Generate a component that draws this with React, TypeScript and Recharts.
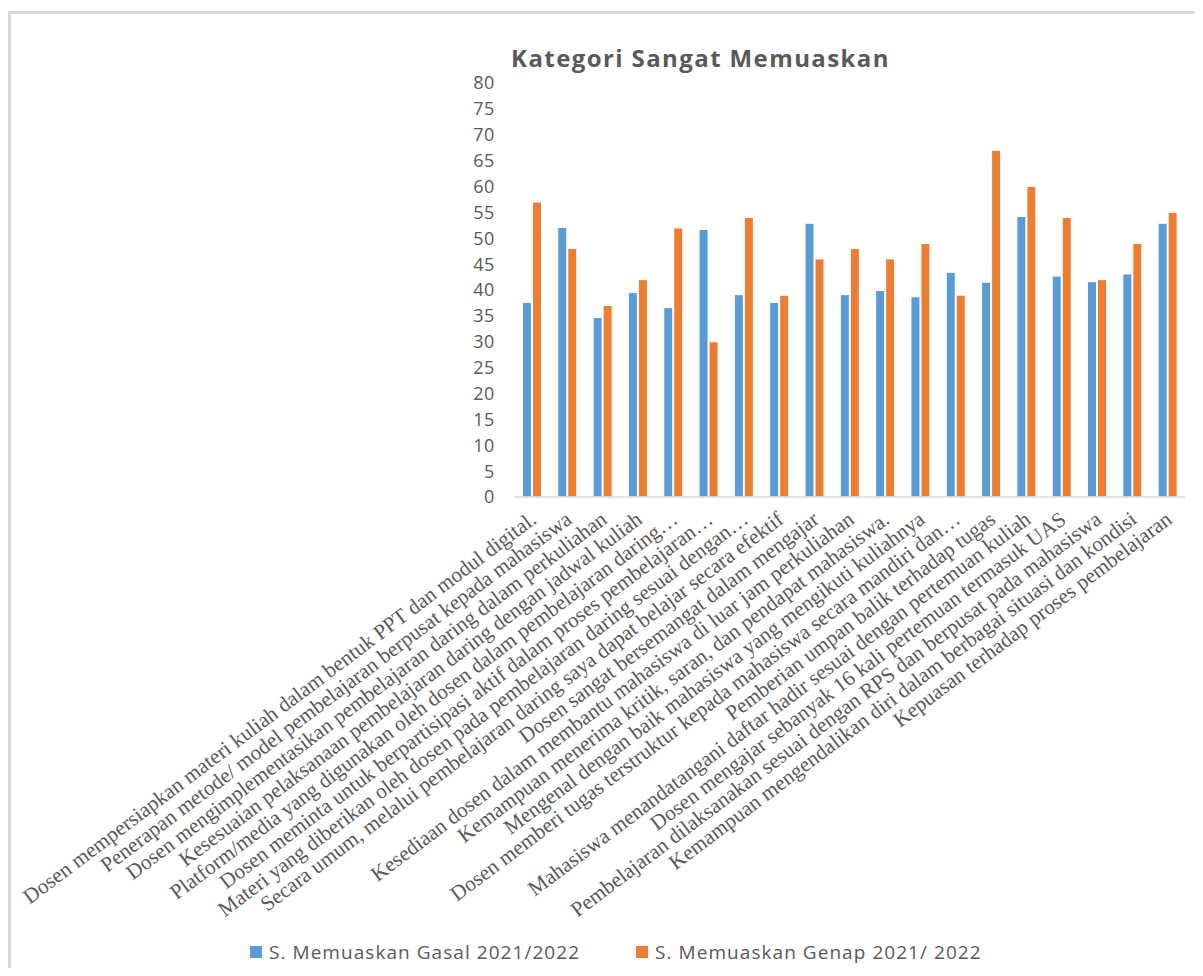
import React from 'react';
import { BarChart, Bar, XAxis, YAxis } from 'recharts';

const categories = [
  'Dosen mempersiapkan materi kuliah dalam bentuk PPT dan modul digital.',
  'Penerapan metode/ model pembelajaran berpusat kepada mahasiswa',
  'Dosen mengimplementasikan pembelajaran daring dalam perkuliahan',
  'Kesesuaian pelaksanaan pembelajaran daring dengan jadwal kuliah',
  'Platform/media yang digunakan oleh dosen dalam pembelajaran daring…',
  'Dosen meminta untuk berpartisipasi aktif dalam proses pembelajaran…',
  'Materi yang diberikan oleh dosen pada pembelajaran daring sesuai dengan…',
  'Secara umum, melalui pembelajaran daring saya dapat belajar secara efektif',
  'Dosen sangat bersemangat dalam mengajar',
  'Kesediaan dosen dalam membantu mahasiswa di luar jam perkuliahan',
  'Kemampuan menerima kritik, saran, dan pendapat mahasiswa.',
  'Mengenal dengan baik mahasiswa yang mengikuti kuliahnya',
  'Dosen memberi tugas terstruktur kepada mahasiswa secara mandiri dan…',
  'Pemberian umpan balik terhadap tugas',
  'Mahasiswa menandatangani daftar hadir sesuai dengan pertemuan kuliah',
  'Dosen mengajar sebanyak 16 kali pertemuan termasuk UAS',
  'Pembelajaran dilaksanakan sesuai dengan RPS dan berpusat pada mahasiswa',
  'Kemampuan mengendalikan diri dalam berbagai situasi dan kondisi',
  'Kepuasan terhadap proses pembelajaran',
];

const gasal = [37.6, 52.1, 34.7, 39.5, 36.6, 51.7, 39.1, 37.6, 52.9, 39.1, 39.9, 38.7, 43.4, 41.5, 54.2, 42.7, 41.6, 43.1, 52.9];
const genap = [57, 48, 37, 42, 52, 30, 54, 39, 46, 48, 46, 49, 39, 67, 60, 54, 42, 49, 55];

const yTicks = [0, 5, 10, 15, 20, 25, 30, 35, 40, 45, 50, 55, 60, 65, 70, 75, 80];

const seriesNames = ['S. Memuaskan Gasal 2021/2022', 'S. Memuaskan Genap 2021/ 2022'];
const colors = ['#5B9BD5', '#ED7D31'];

const data = categories.map((name, i) => ({ name, gasal: gasal[i], genap: genap[i] }));

const sans = "'Open Sans', 'Noto Sans', sans-serif";
const serif = "'Liberation Serif', 'Times New Roman', serif";

const AngledTick = (props: any) => {
  const { x, y, payload } = props;
  return (
    <g transform={`translate(${x + 6},${y + 25}) rotate(-37)`}>
      <text x={0} y={0} textAnchor="end" fill="#595959" fontSize={21.3} fontFamily={serif}>
        {payload.value}
      </text>
    </g>
  );
};

export default function App() {
  return (
    <div style={{ position: 'relative', width: 1195, height: 960 }}>
      <div
        style={{
          position: 'absolute',
          left: 0,
          top: 3,
          right: 0,
          bottom: -20,
          borderTop: '3px solid #d9d9d9',
          borderLeft: '3px solid #d9d9d9',
        }}
      />
      <div
        style={{
          position: 'absolute',
          left: 0,
          width: 1195,
          top: 33,
          textAlign: 'center',
          paddingLeft: 190,
          boxSizing: 'border-box',
          fontFamily: sans,
          fontWeight: 700,
          fontSize: 24,
          letterSpacing: 1.4,
          color: '#595959',
        }}
      >
        Kategori Sangat Memuaskan
      </div>
      <div style={{ position: 'absolute', left: 0, top: 0 }}>
        <BarChart
          width={1195}
          height={960}
          data={data}
          margin={{ top: 75, right: 18, left: 446, bottom: 41 }}
          barCategoryGap="24%"
          barGap={1}
        >
          <XAxis
            dataKey="name"
            interval={0}
            tickLine={false}
            tickSize={0}
            tickMargin={0}
            height={430}
            axisLine={{ stroke: '#d9d9d9', strokeWidth: 1.5 }}
            tick={<AngledTick />}
          />
          <YAxis
            domain={[0, 80]}
            ticks={yTicks}
            interval={0}
            width={60}
            axisLine={false}
            tickLine={false}
            tickSize={0}
            tickMargin={19}
            tick={{ fill: '#595959', fontSize: 18, fontFamily: sans, letterSpacing: 0.6 }}
          />
          <Bar dataKey="gasal" name={seriesNames[0]} fill={colors[0]} stroke="#fff" strokeWidth={1} isAnimationActive={false} />
          <Bar dataKey="genap" name={seriesNames[1]} fill={colors[1]} stroke="#fff" strokeWidth={1} isAnimationActive={false} />
        </BarChart>
      </div>
      <div
        style={{
          position: 'absolute',
          top: 931,
          left: 242,
          display: 'flex',
          alignItems: 'center',
          fontFamily: sans,
          fontSize: 19,
          letterSpacing: 1.05,
          color: '#595959',
        }}
      >
        {seriesNames.map((s, i) => (
          <div key={s} style={{ display: 'flex', alignItems: 'center', marginRight: i === 0 ? 56 : 0 }}>
            <span style={{ width: 12, height: 12, background: colors[i], marginRight: 7, display: 'inline-block' }} />
            <span>{s}</span>
          </div>
        ))}
      </div>
    </div>
  );
}
